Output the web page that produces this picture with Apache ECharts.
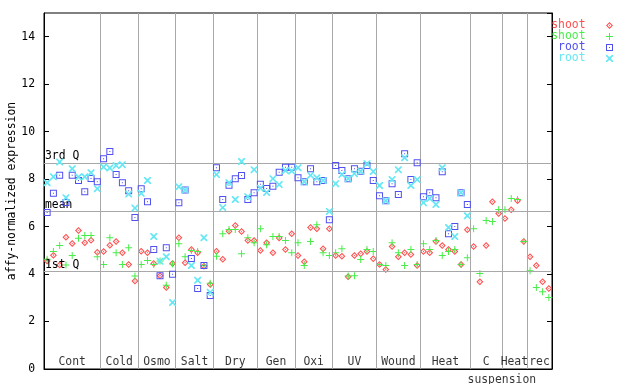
<!DOCTYPE html>
<html><head><meta charset="utf-8">
<script src="https://cdn.jsdelivr.net/npm/echarts@6/dist/echarts.min.js"></script>
<style>html,body{margin:0;padding:0;background:#fff}#c{width:640px;height:384px}</style>
</head><body><div id="c"></div>
<script>
// ---- data ----
const groups = ['Cont','Cold','Osmo','Salt','Dry','Gen','Oxi','UV','Wound','Heat','C','Heat','rec'];
const groupSizes = [9,6,6,6,7,6,6,7,7,8,5,4,4];
const subLabel = 'suspension';
const yTicks = [0,2,4,6,8,10,12,14];
const refNames = ['3rd Q','mean','1st Q'];
const refValues = [8.69, 6.63, 4.10];
const seriesNames = ['shoot','shoot','root','root'];

const shootRed = [
  4.55,4.79,4.38,5.55,5.29,5.84,5.32,5.42,4.92,
  4.95,5.21,5.37,4.90,4.40,3.71,
  4.96,4.90,4.45,3.93,3.43,4.45,
  5.53,4.48,5.04,4.90,4.33,3.56,
  4.96,4.62,5.80,6.05,5.79,5.41,5.41,
  4.99,5.32,4.90,5.52,5.03,5.70,
  4.78,4.52,5.96,5.91,5.07,5.91,
  4.78,4.75,3.89,4.78,4.86,4.95,4.65,
  4.40,4.19,5.16,4.73,4.90,4.82,4.36,
  4.95,4.90,5.37,5.20,5.03,4.95,4.40,5.87,
  5.16,3.68,5.20,7.05,6.55,
  6.34,6.71,7.09,5.37,
  4.73,4.36,3.68,3.39
];
const shootGreen = [
  4.62,4.95,5.20,4.38,4.78,5.51,5.62,5.62,4.73,
  4.40,5.53,4.90,4.40,5.11,3.92,
  4.40,4.57,4.40,4.55,3.53,4.42,
  5.28,4.73,4.99,4.95,4.36,3.61,
  4.75,5.70,5.88,5.88,4.86,5.53,5.32,
  5.91,5.24,5.58,5.58,5.41,4.90,
  5.32,4.36,5.37,6.08,4.90,4.78,
  4.90,5.07,3.92,3.93,4.61,5.03,4.95,
  4.40,4.36,5.32,4.90,4.36,5.03,4.40,
  5.28,5.03,5.41,4.78,4.95,5.03,4.40,4.69,
  5.91,4.02,6.26,6.21,6.72,
  6.71,7.18,7.14,5.37,
  4.14,3.43,3.26,3.01
];
const rootBlue = [
  6.59,7.40,8.16,7.02,8.16,7.94,7.47,8.03,7.89,
  8.86,9.16,8.19,7.85,7.51,6.38,
  7.60,7.05,5.04,3.93,5.11,3.99,
  7.01,7.54,4.66,3.39,4.36,3.10,
  8.48,7.14,7.74,8.02,8.15,7.14,7.43,
  7.78,7.61,7.70,8.29,8.50,8.50,
  8.06,7.89,8.44,7.89,7.94,6.29,
  8.57,8.36,8.02,8.44,8.33,8.57,7.94,
  7.30,7.09,7.81,7.35,9.07,7.98,8.69,
  7.26,7.43,7.22,8.31,5.70,6.00,7.43,6.93,
  null,null,null,null,null,
  null,null,null,null,
  null,null,null,null
];
const rootCyan = [
  7.85,8.10,8.72,7.22,8.44,8.09,8.10,8.27,7.60,
  8.51,8.47,8.57,8.61,7.37,6.78,
  7.40,7.94,5.58,4.54,4.73,2.80,
  7.68,7.54,4.36,3.74,5.53,3.23,
  8.19,6.80,7.85,7.14,8.74,7.26,8.40,
  7.62,7.44,8.02,7.77,8.36,8.34,
  8.48,7.89,8.16,8.06,7.94,6.64,
  7.81,8.19,8.02,8.23,8.33,8.65,8.32,
  7.73,7.09,7.98,8.40,8.90,7.73,7.98,
  7.01,7.18,6.93,8.48,5.96,5.58,7.43,6.46,
  null,null,null,null,null,
  null,null,null,null,
  null,null,null,null
];

// ---- styling ----
const FONT = 'DejaVu Sans Mono';
const FS = 11.4;
const COLORS = ['#ff5050','#48ee48','#5050f0','#66e8f4'];
const SYMBOLS = [
  'path://M3.5,0 L7,3.5 L3.5,7 L0,3.5 Z M3.5,1.5 L1.5,3.5 L3.5,5.5 L5.5,3.5 Z M3.5,2.8 L4.2,3.5 L3.5,4.2 L2.8,3.5 Z',
  'path://M3,0 H4 V3 H7 V4 H4 V7 H3 V4 H0 V3 H3 Z',
  'path://M0,0 H7 V7 H0 Z M1,1 V6 H6 V1 Z M3,3 H4 V4 H3 Z',
  'path://M0,0 H1.2 L3.5,2.3 L5.8,0 H7 V1.2 L4.7,3.5 L7,5.8 V7 H5.8 L3.5,4.7 L1.2,7 H0 V5.8 L2.3,3.5 L0,1.2 Z'
];
const values = [shootRed, shootGreen, rootBlue, rootCyan];

const bounds = [];
let acc = 0;
groupSizes.forEach(n => { acc += n; bounds.push(acc); });
const total = acc;
const centers = groupSizes.map((n, i) => bounds[i] - n / 2);

const legendNames = seriesNames.map((n, i) => n + ' '.repeat(i % 2)); // unique keys

const scatterSeries = values.map((arr, si) => ({
  name: legendNames[si],
  type: 'scatter',
  symbol: SYMBOLS[si],
  symbolSize: 7,
  itemStyle: { color: COLORS[si], opacity: 1 },
  z: 3 + si,
  silent: true,
  data: arr.map((v, i) => v == null ? null : [i + 0.5, v])
}));

const option = {
  animation: false,
  backgroundColor: '#fff',
  grid: { left: 44, right: 88, top: 13, bottom: 15, containLabel: false, outerBoundsMode: 'none',
    show: true, borderColor: '#000', borderWidth: 1, backgroundColor: 'transparent' },
  xAxis: { type: 'value', min: 0, max: total, axisLine: { show: true, lineStyle: { color: '#000' } },
    axisTick: { show: false }, axisLabel: { show: false }, splitLine: { show: false } },
  yAxis: [
    { type: 'value', min: 0, max: 15, interval: 2,
      name: 'affy-normalized expression', nameLocation: 'middle', nameGap: 26, nameMoveOverlap: false,
      nameTextStyle: { fontFamily: FONT, fontSize: FS, color: '#000' },
      axisLine: { show: true, lineStyle: { color: '#000' } },
      axisTick: { show: true, inside: true, length: 5, lineStyle: { color: '#000' } },
      axisLabel: { showMaxLabel: false, fontFamily: FONT, fontSize: FS, color: '#000', margin: 9,
        formatter: v => yTicks.indexOf(v) >= 0 ? String(v) : '' },
      splitLine: { show: false } },
    { type: 'value', min: 0, max: 15, interval: 2, position: 'right',
      axisLine: { show: true, lineStyle: { color: '#000' } },
      axisTick: { show: true, inside: true, length: 5, lineStyle: { color: '#000' } },
      axisLabel: { show: false }, splitLine: { show: false } }
  ],
  legend: {
    orient: 'vertical', right: 22, top: 15, align: 'right',
    itemWidth: 38, itemHeight: 7, itemGap: 0, selectedMode: false,
    formatter: n => n.trim(),
    textStyle: { fontFamily: FONT, fontSize: FS, lineHeight: 10.6 },
    data: legendNames.map((n, i) => ({ name: n, icon: SYMBOLS[i], textStyle: { color: COLORS[i] } }))
  },
  series: [
    { type: 'line', data: [], silent: true, z: 1,
      markLine: { silent: true, symbol: 'none', animation: false,
        lineStyle: { color: '#a8a8a8', width: 1, type: 'solid' },
        data: bounds.slice(0, -1).map(b => ({ xAxis: b, label: { show: false } }))
          .concat(refValues.map((v, i) => ({ yAxis: v, label: { show: true, position: 'insideStartTop',
            formatter: refNames[i], color: '#000', fontFamily: FONT, fontSize: FS, distance: [1, 1] } }))) } },
    ...scatterSeries,
    { type: 'scatter', silent: true, symbolSize: 0, z: 10,
      data: groups.map((g, i) => ({ value: [centers[i], 0], label: { formatter: g } })),
      label: { show: true, position: 'top', distance: 1, color: '#000', fontFamily: FONT, fontSize: FS } },
    { type: 'scatter', silent: true, symbolSize: 0, z: 10,
      data: [{ value: [bounds[10], 0], label: { formatter: subLabel } }],
      label: { show: true, position: 'bottom', distance: 6, color: '#000', fontFamily: FONT, fontSize: FS } }
  ]
};
const chart = echarts.init(document.getElementById('c'), null, { renderer: 'canvas' });
chart.setOption(option);
</script>
</body></html>
